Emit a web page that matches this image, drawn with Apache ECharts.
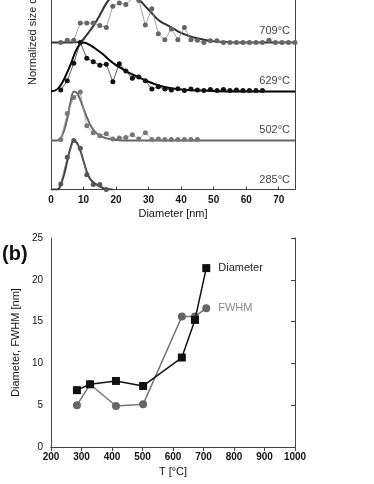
<!DOCTYPE html>
<html>
<head>
<meta charset="utf-8">
<script src="https://cdn.jsdelivr.net/npm/echarts@6/dist/echarts.min.js"></script>
<style>
html,body{margin:0;padding:0;background:#fff}
#main{width:374px;height:484px}
</style>
</head>
<body>
<div id="main"></div>
<script>
// (a) size distributions, [diameter nm, normalized value]
const d709 = [[3,0],[5,0.05],[7,0.05],[9,0.4],[11,0.4],[13,0.4],[15,0.35],[17,0.31],[19,0.74],[21,0.81],[23,0.78],[25,0.9],[27,0.86],[29,0.36],[31,0.69],[33,0.18],[35,0.06],[37,0.28],[39,0.06],[41,0.31],[43,0.06],[45,0.05],[47,0],[49,0.04],[51,0.04],[53,0],[55,0],[57,0],[59,0],[61,0],[63,0],[65,0],[67,0.05],[69,0],[71,0],[73,0],[75,0]]
const d629 = [[3,0.03],[5,0.22],[7,0.58],[9,1.0],[11,0.68],[13,0.61],[15,0.54],[17,0.56],[19,0.2],[21,0.57],[23,0.42],[25,0.27],[27,0.3],[29,0.22],[31,0.05],[33,0.1],[35,0.05],[37,0.03],[39,0.06],[41,0.02],[43,0.05],[45,0.03],[47,0.02],[49,0.04],[51,0.02],[53,0.04],[55,0.02],[57,0.03],[59,0.02],[61,0.02],[63,0.02],[65,0.02]]
const d502 = [[3,0.02],[5,0.55],[7,0.88],[9,0.99],[11,0.3],[13,0.16],[15,0.1],[17,0.14],[19,0.03],[21,0.05],[23,0.06],[25,0.12],[27,0.03],[29,0.16],[31,0.02],[33,0.03],[35,0.02],[37,0.02],[39,0.02],[41,0.02],[43,0.02],[45,0.02]]
const d285 = [[3,0.11],[5,0.66],[7,1.0],[9,0.84],[11,0.3],[13,0.1],[15,0.1],[17,0]]

// fitted curves
const f709 = [[0,0],[5,0],[9,0.02],[11,0.16],[13,0.34],[15,0.56],[17,0.8],[19,0.95],[21,1.0],[23,0.99],[25,0.95],[27,0.88],[29,0.74],[31,0.6],[33,0.46],[35,0.38],[37,0.31],[39,0.23],[41,0.17],[43,0.12],[45,0.09],[47,0.06],[50,0.03],[54,0.01],[58,0],[75,0]]
const f629 = [[0,0],[2,0.05],[4,0.25],[6,0.55],[8,0.88],[10,1.0],[12,0.95],[14,0.86],[16,0.76],[18,0.64],[20,0.54],[22,0.46],[24,0.38],[26,0.32],[28,0.26],[30,0.2],[32,0.15],[34,0.11],[36,0.08],[38,0.06],[42,0.03],[46,0.02],[50,0.01],[55,0],[75,0]]
const f502 = [[0,0],[2,0],[3,0.05],[4,0.2],[5,0.45],[6,0.78],[7,1.0],[8,0.97],[9,0.83],[10,0.65],[11,0.48],[12,0.33],[13,0.22],[14,0.15],[16,0.07],[18,0.03],[20,0.01],[22,0],[75,0]]
const f285 = [[0,0],[2,0],[3,0.1],[4,0.3],[5,0.58],[6,0.85],[7,1.0],[8,0.95],[9,0.8],[10,0.58],[11,0.36],[12,0.22],[13,0.15],[14,0.1],[15,0.06],[16,0.03],[17,0.01],[19,0]]

const tempLabels = ['709°C', '629°C', '502°C', '285°C']
const offsets = [3, 2, 1, 0]

// (b) mean diameter and FWHM vs temperature
const tempC = [285, 328, 413, 502, 629, 672, 709]
const diameter = [6.8, 7.5, 7.9, 7.3, 10.7, 15.2, 21.4]
const fwhm = [5.0, 7.5, 4.9, 5.1, 15.6, 15.6, 16.6]

const FONT = 'Liberation Sans, Arial, sans-serif'
const chart = echarts.init(document.getElementById('main'), null, { renderer: 'canvas' })

function shift(arr, off) {
  return arr.map(p => [p[0], p[1] + off])
}

const distSets = [
  { data: d709, fit: f709, dot: '#666', line: '#888', fitColor: '#333' },
  { data: d629, fit: f629, dot: '#111', line: '#333', fitColor: '#000' },
  { data: d502, fit: f502, dot: '#777', line: '#999', fitColor: '#666' },
  { data: d285, fit: f285, dot: '#555', line: '#777', fitColor: '#3a3a3a' }
]

const series = []
distSets.forEach((s, i) => {
  series.push({
    type: 'line', xAxisIndex: 0, yAxisIndex: 0,
    data: shift(s.fit, offsets[i]),
    smooth: 0.35, symbol: 'none', z: 2,
    lineStyle: { color: s.fitColor, width: 2 }
  })
  series.push({
    type: 'line', xAxisIndex: 0, yAxisIndex: 0,
    data: shift(s.data, offsets[i]),
    symbol: 'circle', symbolSize: 5, z: 3,
    itemStyle: { color: s.dot },
    lineStyle: { color: s.line, width: 0.8 }
  })
})

const lastLabel = (color) => ({
  show: true, position: 'right', distance: 8,
  formatter: p => (p.dataIndex === tempC.length - 1 ? p.seriesName : ''),
  color: color, fontSize: 11, fontFamily: FONT
})

series.push({
  name: 'FWHM', type: 'line', xAxisIndex: 2, yAxisIndex: 2,
  data: tempC.map((t, i) => [t, fwhm[i]]),
  symbol: 'circle', symbolSize: 8, z: 3,
  itemStyle: { color: '#666' },
  lineStyle: { color: '#777', width: 1.5 },
  label: lastLabel('#888')
})
series.push({
  name: 'Diameter', type: 'line', xAxisIndex: 2, yAxisIndex: 2,
  data: tempC.map((t, i) => [t, diameter[i]]),
  symbol: 'rect', symbolSize: 8, z: 4,
  itemStyle: { color: '#111' },
  lineStyle: { color: '#111', width: 1.5 },
  label: lastLabel('#222')
})

const lineStyle = { color: '#444', width: 1 }
const labelStyle = { color: '#111', fontSize: 11, fontFamily: FONT }
const tickStyle = { color: '#111', fontSize: 10, fontWeight: 'bold', fontFamily: FONT }
// top of panel (a) is cut off by the picture edge: 0..yTopA spans 189.5 px
const yTopA = 3.87

const option = {
  animation: false,
  backgroundColor: '#fff',
  grid: [
    { left: 51, right: 79, top: 0, bottom: 294.5 },
    { left: 51, right: 79, top: 238, bottom: 37 }
  ],
  xAxis: [
    {
      gridIndex: 0, type: 'value', min: 0, max: 75, interval: 10,
      name: 'Diameter [nm]', nameLocation: 'middle', nameGap: 19,
      nameTextStyle: labelStyle,
      axisLine: { lineStyle: lineStyle },
      axisTick: { inside: true, length: 3, lineStyle: lineStyle },
      axisLabel: Object.assign({ margin: 6, showMaxLabel: false }, tickStyle),
      splitLine: { show: false }
    },
    {
      gridIndex: 1, type: 'value', min: 200, max: 1000, interval: 100,
      name: 'T [°C]', nameLocation: 'middle', nameGap: 19,
      nameTextStyle: labelStyle,
      axisLine: { lineStyle: lineStyle },
      axisTick: { show: false },
      axisLabel: Object.assign({ margin: 5, formatter: v => String(v) }, tickStyle),
      splitLine: { show: false }
    },
    {
      gridIndex: 1, type: 'value', min: 200, max: 1000, interval: 100, position: 'top',
      axisLine: { lineStyle: lineStyle },
      axisTick: { inside: true, length: 4, lineStyle: lineStyle },
      axisLabel: { show: false },
      splitLine: { show: false }
    }
  ],
  yAxis: [
    {
      gridIndex: 0, type: 'value', min: 0, max: yTopA,
      axisLine: { show: true, lineStyle: lineStyle },
      axisTick: { show: false }, axisLabel: { show: false },
      splitLine: { show: false }
    },
    {
      gridIndex: 0, type: 'value', min: 0, max: yTopA, position: 'right',
      axisLine: { show: true, lineStyle: lineStyle },
      axisTick: { show: false }, axisLabel: { show: false },
      splitLine: { show: false }
    },
    {
      gridIndex: 1, type: 'value', min: 0, max: 25, interval: 5,
      name: 'Diameter, FWHM [nm]', nameLocation: 'middle', nameGap: 16,
      nameTextStyle: labelStyle,
      axisLine: { show: true, lineStyle: lineStyle },
      axisTick: { show: false },
      axisLabel: Object.assign({ margin: 8 }, tickStyle, { fontWeight: 'normal' }),
      splitLine: { show: false }
    },
    {
      gridIndex: 1, type: 'value', min: 0, max: 25, interval: 5, position: 'right',
      axisLine: { show: true, lineStyle: lineStyle },
      axisTick: { inside: true, length: 4, lineStyle: lineStyle },
      axisLabel: { show: false },
      splitLine: { show: false }
    }
  ],
  graphic: [
    {
      type: 'text', x: 33, y: 85, rotation: Math.PI / 2,
      style: { text: 'Normalized size distribution', fill: '#222', font: '11px ' + FONT, align: 'left', verticalAlign: 'middle' }
    },
    {
      type: 'text', x: 2, y: 254,
      style: { text: '(b)', fill: '#111', font: 'bold 20px ' + FONT, align: 'left', verticalAlign: 'middle' }
    }
  ].concat(tempLabels.map((t, i) => ({
    type: 'text', x: 290, y: [31, 81, 129.5, 180][i],
    style: { text: t, fill: '#444', font: '11px ' + FONT, align: 'right', verticalAlign: 'middle' }
  }))),
  series: series
}

chart.setOption(option)
</script>
</body>
</html>
